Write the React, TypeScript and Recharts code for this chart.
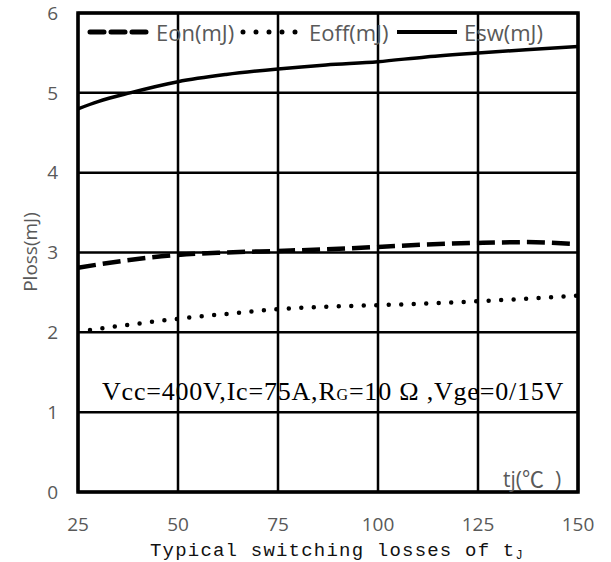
import React from 'react';
import {
  LineChart, Line, XAxis, YAxis, CartesianGrid, ReferenceArea,
} from 'recharts';

// junction temperature ticks (°C) and loss ticks (mJ)
const tempTicks = [25, 50, 75, 100, 125, 150];
const lossTicks = [0, 1, 2, 3, 4, 5, 6];

// Eon(mJ)
const eonTemp = [25, 37, 50, 62, 75, 87, 100, 112, 125, 137, 148];
const eonLoss = [2.81, 2.9, 2.97, 3.0, 3.02, 3.04, 3.07, 3.1, 3.12, 3.13, 3.11];

// Eoff(mJ)
const eoffTemp = [28, 37, 50, 62, 75, 87, 100, 112, 125, 137, 150];
const eoffLoss = [2.03, 2.09, 2.17, 2.23, 2.29, 2.32, 2.34, 2.36, 2.39, 2.42, 2.46];

// Esw(mJ)
const eswTemp = [25, 30, 38, 50, 62, 75, 87, 100, 112, 125, 137, 150];
const eswLoss = [4.8, 4.89, 5.0, 5.14, 5.23, 5.3, 5.35, 5.39, 5.45, 5.5, 5.54, 5.58];

const toRows = (t: number[], v: number[]) => t.map((x, i) => ({ t: x, v: v[i] }));

const GRAY = '#595959';
const SANS = '"Open Sans", "Noto Sans", sans-serif';
const CJK = '"Noto Sans CJK SC", sans-serif';

// legend drawn over the top of the plot, like the original
function LegendBox() {
  const txt: React.CSSProperties = {
    position: 'absolute', top: 0, lineHeight: '30px', fontSize: 22, color: GRAY, fontFamily: SANS, whiteSpace: 'nowrap',
  };
  return (
    <div style={{ position: 'absolute', left: 0, top: 17, height: 30, width: 611 }}>
      <svg style={{ position: 'absolute', left: 86, top: 0 }} width={64} height={30}>
        <line x1={4} y1={15} x2={60} y2={15} stroke="#000" strokeWidth={5} strokeDasharray="14 7" strokeLinecap="round" />
      </svg>
      <span style={{ ...txt, left: 156 }}>Eon(mJ)</span>
      <svg style={{ position: 'absolute', left: 238, top: 0 }} width={64} height={30}>
        <line x1={5} y1={15} x2={60} y2={15} stroke="#000" strokeWidth={5} strokeDasharray="0 13" strokeLinecap="round" />
      </svg>
      <span style={{ ...txt, left: 309 }}>Eoff(mJ)</span>
      <svg style={{ position: 'absolute', left: 397, top: 0 }} width={62} height={30}>
        <line x1={0} y1={15} x2={60} y2={15} stroke="#000" strokeWidth={4} />
      </svg>
      <span style={{ ...txt, left: 464 }}>Esw(mJ)</span>
    </div>
  );
}

export default function App() {
  return (
    <div style={{ position: 'absolute', left: 0, top: 0, width: 611, height: 562, background: '#fff' }}>
      <LineChart width={611} height={562} margin={{ top: 13, right: 33, bottom: 0, left: 0 }}>
        <CartesianGrid stroke="#000" strokeWidth={2.5} />
        <XAxis
          dataKey="t"
          type="number"
          domain={[25, 150]}
          ticks={tempTicks}
          height={70}
          tickLine={false}
          axisLine={false}
          tickSize={0}
          tickMargin={26}
          tick={{ fill: GRAY, fontSize: 19, fontFamily: SANS }}
          allowDuplicatedCategory={false}
        />
        <YAxis
          type="number"
          domain={[0, 6]}
          ticks={lossTicks}
          width={78}
          tickLine={false}
          axisLine={false}
          tickSize={0}
          tickMargin={20}
          tick={{ fill: GRAY, fontSize: 19, fontFamily: SANS }}
        />
        <Line
          name="Eon(mJ)"
          data={toRows(eonTemp, eonLoss)}
          dataKey="v"
          type="monotone"
          stroke="#000"
          strokeWidth={4.5}
          strokeDasharray="18 7"
          dot={false}
          isAnimationActive={false}
        />
        <Line
          name="Eoff(mJ)"
          data={toRows(eoffTemp, eoffLoss)}
          dataKey="v"
          type="monotone"
          stroke="#000"
          strokeWidth={4.5}
          strokeDasharray="0 12.5"
          strokeLinecap="round"
          dot={false}
          isAnimationActive={false}
        />
        <Line
          name="Esw(mJ)"
          data={toRows(eswTemp, eswLoss)}
          dataKey="v"
          type="monotone"
          stroke="#000"
          strokeWidth={3.5}
          dot={false}
          isAnimationActive={false}
        />
        <ReferenceArea x1={25} x2={150} y1={0} y2={6} fill="none" stroke="#000" strokeWidth={3.5} ifOverflow="visible" />
      </LineChart>

      <LegendBox />

      <div style={{
        position: 'absolute', left: -70, top: 240, width: 200, textAlign: 'center', lineHeight: '24px',
        fontSize: 19, color: GRAY, fontFamily: SANS, transform: 'rotate(-90deg)',
      }}>
        Ploss(mJ)
      </div>

      <div style={{
        position: 'absolute', left: 102, top: 376, lineHeight: '32px', whiteSpace: 'nowrap',
        fontSize: 26, letterSpacing: 0.8, color: '#000', fontFamily: '"Liberation Serif", serif',
      }}>
        Vcc=400V,Ic=75A,R<span style={{ fontSize: 16 }}>G</span>=10 Ω ,Vge=0/15V
      </div>

      <div style={{
        position: 'absolute', left: 503, top: 464, lineHeight: '26px', whiteSpace: 'nowrap',
        fontSize: 21, color: GRAY, fontFamily: SANS,
      }}>
        tj(<span style={{ fontFamily: CJK, fontSize: 22, letterSpacing: 1 }}>℃</span>
        <span style={{ marginLeft: 10 }}>)</span>
      </div>

      <div style={{
        position: 'absolute', left: 150, top: 539, lineHeight: '24px', whiteSpace: 'nowrap',
        fontSize: 19, letterSpacing: 1.2, color: '#111', fontFamily: '"Liberation Mono", monospace',
      }}>
        Typical switching losses of t<span style={{ fontSize: 12, verticalAlign: -3 }}>J</span>
      </div>
    </div>
  );
}
